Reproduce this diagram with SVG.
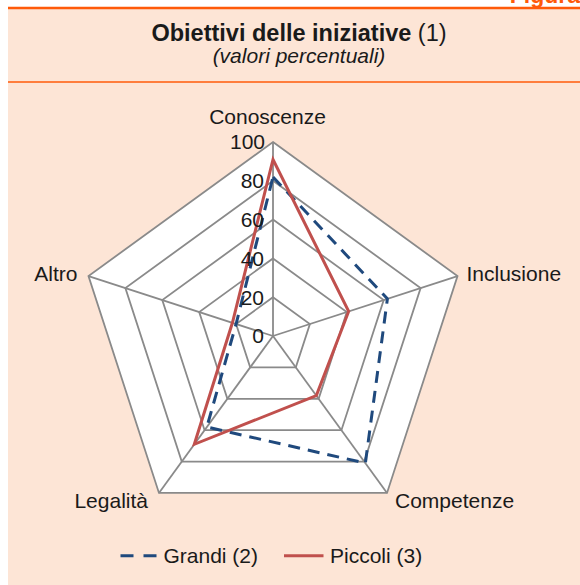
<svg xmlns="http://www.w3.org/2000/svg" width="580" height="585" viewBox="0 0 580 585">
<style>
  text { font-family: "Liberation Sans", Arial, sans-serif; fill: #1a1a1a; }
  .lbl { font-size: 21px; }
  .tick { font-size: 21px; text-anchor: end; }
  .grid { fill: none; stroke: #8a8a8a; stroke-width: 1.8; stroke-linejoin: miter; }
  .spoke { stroke: #8a8a8a; stroke-width: 1.8; }
  .grandi { fill: none; stroke: #1f497d; stroke-width: 3; stroke-dasharray: 12 8; stroke-linejoin: round; }
  .piccoli { fill: none; stroke: #c0504d; stroke-width: 3; stroke-linejoin: miter; }
  .orange { stroke: #ff5a0a; }
</style>
<rect x="0" y="0" width="580" height="585" fill="#ffffff"/>
<text x="580" y="3" text-anchor="end" style="font-size:23px;font-weight:bold;fill:#ff5a0a">Figura</text>
<rect x="8" y="8" width="572" height="577" fill="#fde5d6"/>
<line class="orange" x1="8" y1="8" x2="580" y2="8" stroke-width="2.5"/>
<line class="orange" x1="8" y1="82" x2="580" y2="82" stroke-width="1.6"/>
<g id="title">
  <text x="299" y="41" text-anchor="middle" style="font-size:23.5px"><tspan font-weight="bold">Obiettivi delle iniziative</tspan> (1)</text>
  <text x="299" y="63" text-anchor="middle" style="font-size:21px;font-style:italic">(valori percentuali)</text>
</g>
<g id="grid">
  <polygon points="273,142 457.51,276.05 387.03,492.95 158.97,492.95 88.49,276.05" fill="#ffffff" stroke="none"/>
  <polygon class="grid" points="273,142 457.51,276.05 387.03,492.95 158.97,492.95 88.49,276.05"/>
  <polygon class="grid" points="273,180.8 420.61,288.04 364.23,461.56 181.77,461.56 125.39,288.04"/>
  <polygon class="grid" points="273,219.6 383.71,300.03 341.42,430.17 204.58,430.17 162.29,300.03"/>
  <polygon class="grid" points="273,258.4 346.80,312.02 318.61,398.78 227.39,398.78 199.20,312.02"/>
  <polygon class="grid" points="273,297.2 309.90,324.01 295.81,367.39 250.19,367.39 236.10,324.01"/>
  <line class="spoke" x1="273" y1="336" x2="273" y2="142"/>
  <line class="spoke" x1="273" y1="336" x2="457.51" y2="276.05"/>
  <line class="spoke" x1="273" y1="336" x2="387.03" y2="492.95"/>
  <line class="spoke" x1="273" y1="336" x2="158.97" y2="492.95"/>
  <line class="spoke" x1="273" y1="336" x2="88.49" y2="276.05"/>
</g>
<g id="series">
  <polygon id="grandi" class="grandi" points="273,176.92 387.40,298.83 365.37,463.13 206.86,427.03 236.10,324.01"/>
  <polygon id="piccoli" class="piccoli" points="273,159.46 348.65,311.42 316.33,395.64 194.32,444.29 232.41,322.81"/>
</g>
<g id="ticks">
  <text class="tick" x="265" y="149">100</text>
  <text class="tick" x="264" y="188">80</text>
  <text class="tick" x="264" y="227">60</text>
  <text class="tick" x="264" y="266">40</text>
  <text class="tick" x="264" y="305">20</text>
  <text class="tick" x="264" y="343">0</text>
</g>
<g id="axis-labels">
  <text class="lbl" x="267.5" y="124" text-anchor="middle">Conoscenze</text>
  <text class="lbl" x="466.5" y="281">Inclusione</text>
  <text class="lbl" x="395" y="508">Competenze</text>
  <text class="lbl" x="148" y="508" text-anchor="end">Legalità</text>
  <text class="lbl" x="77.5" y="281" text-anchor="end">Altro</text>
</g>
<g id="legend">
  <line class="grandi" x1="120.5" y1="555.7" x2="157" y2="555.7" style="stroke-dasharray:13 10"/>
  <text class="lbl" x="163.5" y="562.5">Grandi (2)</text>
  <line class="piccoli" x1="284" y1="555.7" x2="323.5" y2="555.7"/>
  <text class="lbl" x="330" y="562.5">Piccoli (3)</text>
</g>
</svg>
